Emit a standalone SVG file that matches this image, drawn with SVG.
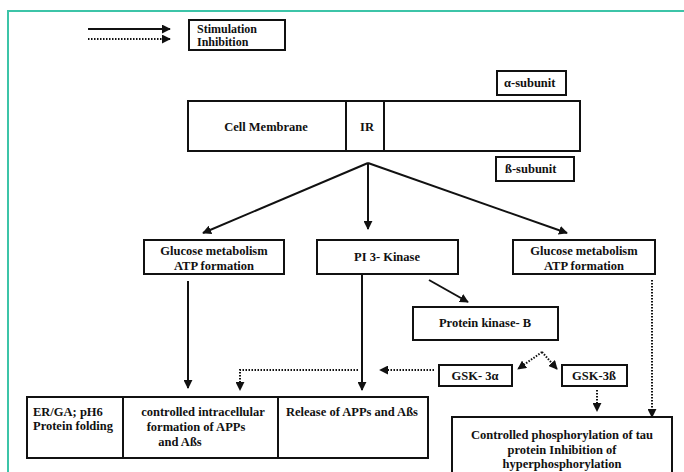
<svg xmlns="http://www.w3.org/2000/svg" width="684" height="472" viewBox="0 0 684 472">
<defs>
<style>
.box{fill:#fff;stroke:#111;stroke-width:2}
.t{font-family:"Liberation Serif","Times New Roman",serif;font-weight:bold;font-size:12.5px;fill:#111}
.m{text-anchor:middle}
.s{fill:none;stroke:#111;stroke-width:2}
.d{fill:none;stroke:#111;stroke-width:2;stroke-dasharray:1.5 1.5}
</style>
<marker id="ah" viewBox="0 0 10 10" refX="9" refY="5" markerWidth="4.5" markerHeight="4.5" orient="auto" markerUnits="strokeWidth">
<path d="M0,0 L10,5 L0,10 Z" fill="#111"/>
</marker>
</defs>
<rect width="684" height="472" fill="#fff"/>
<path d="M8,472 V11 H684" fill="none" stroke="#3cc4a8" stroke-width="2"/>

<g id="legend">
<line class="s" x1="88" y1="29" x2="170" y2="29" marker-end="url(#ah)"/>
<line class="d" x1="88" y1="39" x2="170" y2="39" marker-end="url(#ah)"/>
<rect class="box" x="189" y="20" width="96" height="30"/>
<text class="t" x="197" y="33" style="font-size:12px">Stimulation</text>
<text class="t" x="197" y="46" style="font-size:12px">Inhibition</text>
</g>

<g id="alpha"><rect class="box" x="497" y="71" width="69" height="24"/><text class="t" x="504" y="87">α-subunit</text></g>
<g id="membrane">
<rect class="box" x="188" y="101" width="392" height="50"/>
<line class="s" x1="346" y1="101" x2="346" y2="151"/>
<line class="s" x1="384" y1="101" x2="384" y2="151"/>
<text class="t m" x="266" y="131">Cell  Membrane</text>
<text class="t m" x="367" y="131">IR</text>
</g>
<g id="beta"><rect class="box" x="496" y="157" width="78" height="24"/><text class="t" x="505" y="173">ß-subunit</text></g>

<g id="glucose1"><rect class="box" x="144" y="240" width="140" height="34"/>
<text class="t m" x="214" y="255">Glucose metabolism</text><text class="t m" x="214" y="270">ATP formation</text></g>
<g id="pi3k"><rect class="box" x="317" y="240" width="141" height="34"/>
<text class="t m" x="387" y="261">PI 3- Kinase</text></g>
<g id="glucose2"><rect class="box" x="513" y="240" width="142" height="34"/>
<text class="t m" x="584" y="255">Glucose metabolism</text><text class="t m" x="584" y="270">ATP formation</text></g>

<g id="pkb"><rect class="box" x="413" y="307" width="145" height="33"/>
<text class="t m" x="485" y="327">Protein  kinase- B</text></g>
<g id="gsk3a"><rect class="box" x="439" y="365" width="73" height="21"/>
<text class="t m" x="475" y="380">GSK- 3α</text></g>
<g id="gsk3b"><rect class="box" x="562" y="365" width="65" height="21"/>
<text class="t m" x="594" y="380">GSK-3ß</text></g>

<g id="bottom">
<rect class="box" x="27" y="397" width="401" height="61"/>
<line class="s" x1="123" y1="397" x2="123" y2="458"/>
<line class="s" x1="278" y1="397" x2="278" y2="458"/>
<text class="t" x="33" y="416">ER/GA; pH6</text>
<text class="t" x="33" y="430">Protein folding</text>
<text class="t m" x="203" y="416">controlled intracellular</text>
<text class="t m" x="196" y="431">formation of APPs</text>
<text class="t m" x="180" y="446">and Aßs</text>
<text class="t" x="286" y="416">Release of APPs and Aßs</text>
</g>
<g id="tau">
<rect class="box" x="452" y="417" width="220" height="70"/>
<text class="t m" x="562" y="439">Controlled phosphorylation of tau</text>
<text class="t m" x="562" y="454">protein Inhibition of</text>
<text class="t m" x="562" y="468">hyperphosphorylation</text>
</g>

<g id="connectors">
<line class="s" x1="368" y1="163" x2="203" y2="233" marker-end="url(#ah)"/>
<line class="s" x1="368" y1="163" x2="368" y2="229" marker-end="url(#ah)"/>
<line class="s" x1="368" y1="163" x2="567" y2="233" marker-end="url(#ah)"/>
<line class="s" x1="429" y1="280" x2="468" y2="302" marker-end="url(#ah)"/>
<line class="s" x1="188" y1="281" x2="188" y2="388" marker-end="url(#ah)"/>
<line class="s" x1="362" y1="274" x2="362" y2="390" marker-end="url(#ah)"/>
<line class="d" x1="652" y1="280" x2="652" y2="417" marker-end="url(#ah)"/>
<line class="d" x1="542" y1="352" x2="518" y2="369" marker-end="url(#ah)"/>
<line class="d" x1="542" y1="352" x2="557" y2="369" marker-end="url(#ah)"/>
<line class="d" x1="434" y1="370" x2="380" y2="370" marker-end="url(#ah)"/>
<path class="d" d="M358,370 H240 V390" marker-end="url(#ah)"/>
<line class="d" x1="597" y1="390" x2="597" y2="411" marker-end="url(#ah)"/>
</g>
</svg>
